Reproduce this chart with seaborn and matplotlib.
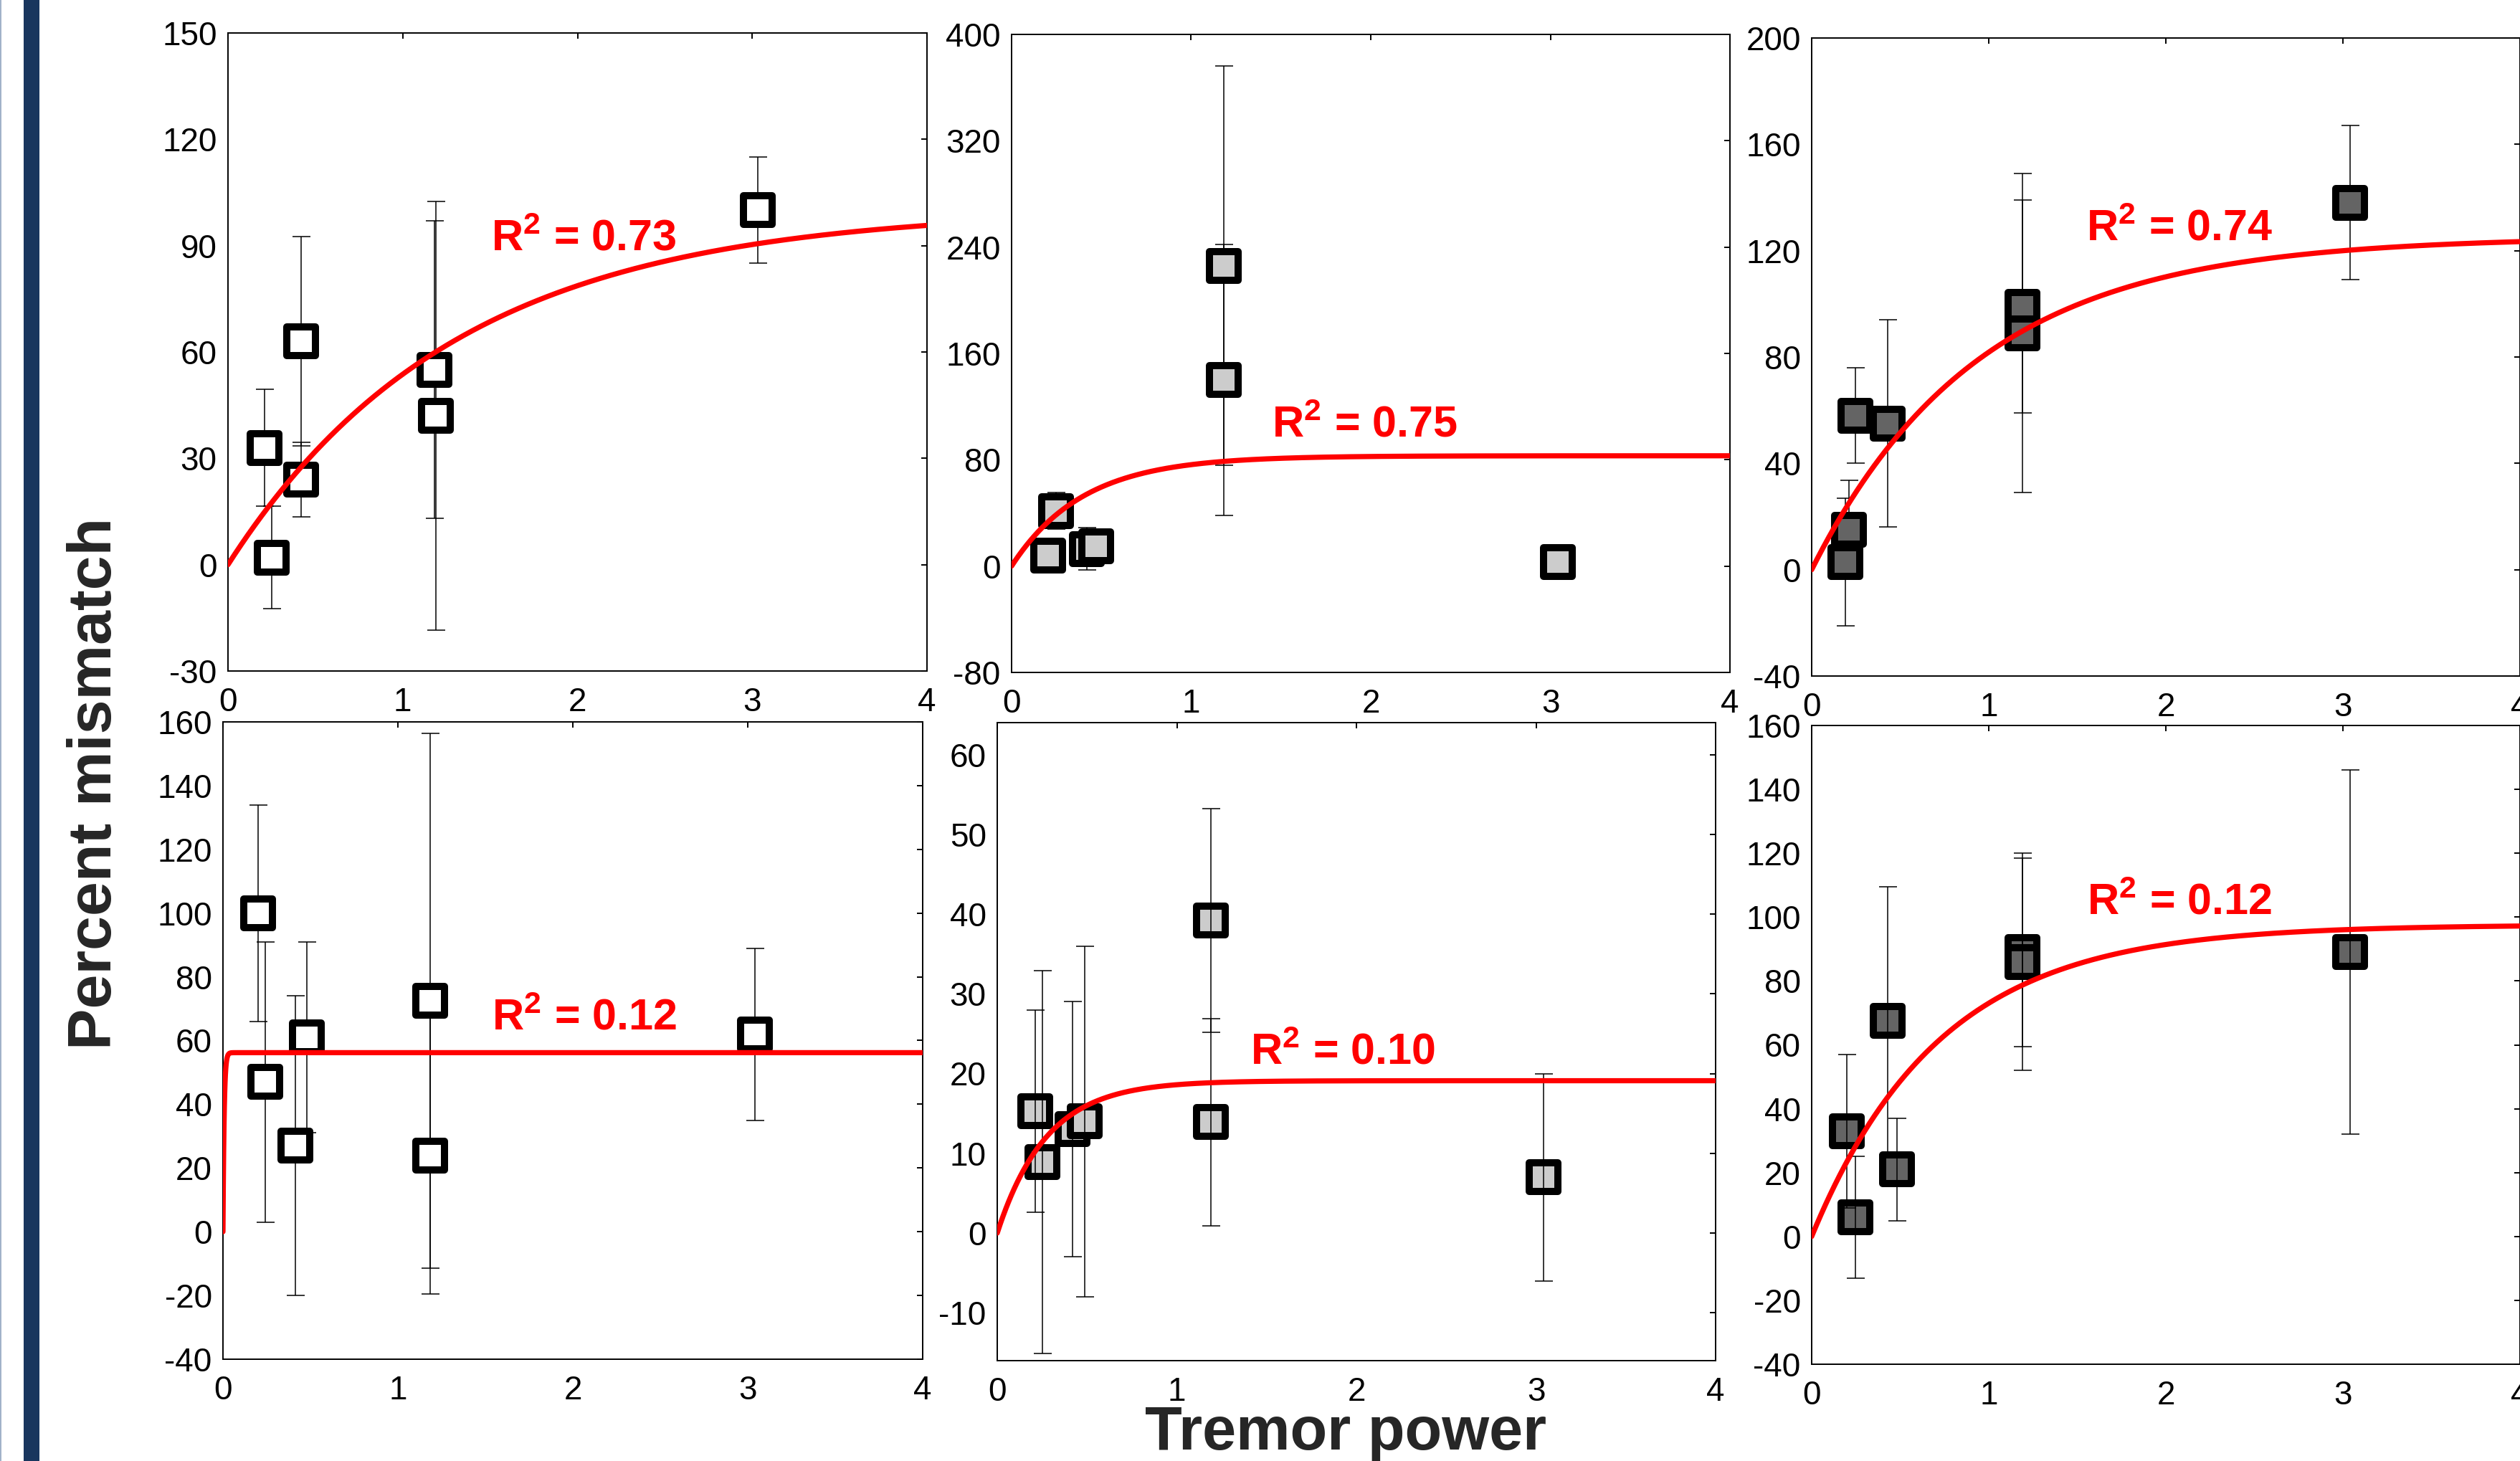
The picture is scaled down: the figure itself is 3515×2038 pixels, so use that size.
import numpy as np
import pandas as pd
import matplotlib
matplotlib.use("Agg")
import matplotlib.pyplot as plt
from matplotlib.patches import Rectangle
from matplotlib.lines import Line2D
import seaborn as sns

# Tremor power vs. percent mismatch, six conditions (mean and SD per subject)
p1_power = [0.21, 0.25, 0.42, 0.42, 1.18, 1.19, 3.03]
p1_mismatch = [33, 2, 63, 24, 55, 42, 100]
p1_sd = [16.5, 14.5, 29.5, 10.5, 42, 60.5, 15]

p2_power = [0.205, 0.246, 0.42, 0.47, 1.18, 1.18, 3.04]
p2_mismatch = [8, 41.6, 13, 15, 226, 140, 3]
p2_sd = [4, 14, 15.7, 6, 150, 102, 3]

p3_power = [0.19, 0.21, 0.245, 0.43, 1.19, 1.19, 3.04]
p3_mismatch = [3, 15, 58, 55, 99, 89, 138]
p3_sd = [24, 18.5, 18, 39, 40, 60, 29]

p4_power = [0.2, 0.24, 0.415, 0.48, 1.185, 1.185, 3.04]
p4_mismatch = [100, 47, 27, 61, 72.5, 24, 62]
p4_sd = [34, 44, 47, 30, 84, 43.5, 27]

p5_power = [0.21, 0.25, 0.42, 0.486, 1.19, 1.19, 3.04]
p5_mismatch = [15.3, 8.9, 13, 14, 39.2, 13.9, 7]
p5_sd = [12.7, 24, 16, 22, 14, 13, 13]

p6_power = [0.2, 0.245, 0.43, 0.48, 1.19, 1.19, 3.04]
p6_mismatch = [33, 6, 67.5, 21, 89, 86, 89]
p6_sd = [24, 19, 42, 16, 29.5, 34, 57]

# Saturating exponential fits: y = plateau * (1 - exp(-rate * x))
fit_plateau = [100.4, 83.0, 125.2, 56.2, 19.1, 97.6]
fit_rate = [0.766, 2.52, 1.06, 150.0, 3.64, 1.38]
r2_values = ["0.73", "0.75", "0.74", "0.12", "0.10", "0.12"]

x_ticks = [0, 1, 2, 3, 4]
y_ticks = [
    [-30, 0, 30, 60, 90, 120, 150],
    [-80, 0, 80, 160, 240, 320, 400],
    [-40, 0, 40, 80, 120, 160, 200],
    [-40, -20, 0, 20, 40, 60, 80, 100, 120, 140, 160],
    [-10, 0, 10, 20, 30, 40, 50, 60],
    [-40, -20, 0, 20, 40, 60, 80, 100, 120, 140, 160],
]
y_limits = [(-30, 150), (-80, 400), (-40, 200), (-40, 160), (-16, 64), (-40, 160)]

panels = [
    (p1_power, p1_mismatch, p1_sd),
    (p2_power, p2_mismatch, p2_sd),
    (p3_power, p3_mismatch, p3_sd),
    (p4_power, p4_mismatch, p4_sd),
    (p5_power, p5_mismatch, p5_sd),
    (p6_power, p6_mismatch, p6_sd),
]

# ---- styling -------------------------------------------------------------
sns.set_theme(style="white")
plt.rcParams["font.family"] = ["Liberation Sans", "DejaVu Sans"]
plt.rcParams["mathtext.fontset"] = "custom"
plt.rcParams["mathtext.rm"] = "Liberation Sans"
plt.rcParams["mathtext.bf"] = "Liberation Sans:bold"
plt.rcParams["axes.linewidth"] = 0.7
plt.rcParams["axes.edgecolor"] = "black"

W, H = 3516, 2038
DPI = 200
fig = plt.figure(figsize=(W / DPI, H / DPI), dpi=DPI, facecolor="white")

# axes boxes in pixels: (left, top, right, bottom)
boxes = [
    (318, 46, 1293, 936),
    (1411, 48, 2413, 938),
    (2527, 53, 3515, 943),
    (311, 1007, 1287, 1896),
    (1391, 1008, 2393, 1898),
    (2527, 1012, 3515, 1903),
]
face_colors = ["white", "#cccccc", "#646464", "white", "#cccccc", "#646464"]
bars_on_top = [False, False, False, False, True, True]
label_pos = [(1.507, 88.6), (1.45, 97.4), (1.55, 123.8),
             (1.537, 63.3), (1.408, 21.2), (1.554, 100.9)]

for i, ((px, py, psd), (l, t, r, b)) in enumerate(zip(panels, boxes)):
    ax = fig.add_axes([l / W, 1 - b / H, (r - l) / W, (b - t) / H])
    ax.set_facecolor("white")

    df = pd.DataFrame({"power": px, "mismatch": py, "sd": psd})

    z_bar, z_mark = (3, 2) if bars_on_top[i] else (2, 3)
    ax.errorbar(df["power"], df["mismatch"], yerr=df["sd"], fmt="none",
                ecolor="black", elinewidth=0.55, capsize=4.5, capthick=0.55,
                zorder=z_bar)
    sns.scatterplot(data=df, x="power", y="mismatch", ax=ax, marker="s",
                    s=207, color=face_colors[i], edgecolor="black",
                    linewidth=3.6, zorder=z_mark, legend=False)

    xs = np.linspace(0, 4, 2001)
    fit_df = pd.DataFrame({"power": xs,
                           "fit": fit_plateau[i] * (1 - np.exp(-fit_rate[i] * xs))})
    sns.lineplot(data=fit_df, x="power", y="fit", ax=ax, color="#ff0000",
                 linewidth=2.6, estimator=None, zorder=4)

    lx, ly = label_pos[i]
    ax.text(lx, ly, r"R$^{\mathbf{2}}$ = " + r2_values[i], color="#ff0000",
            fontsize=22, fontweight="bold", ha="left", va="baseline", zorder=5)

    ax.set_xlim(0, 4)
    ax.set_ylim(*y_limits[i])
    ax.set_xticks(x_ticks)
    ax.set_yticks(y_ticks[i])
    ax.set_xticklabels([str(v) for v in x_ticks])
    ax.set_yticklabels([str(v) for v in y_ticks[i]])
    ax.set_xlabel("")
    ax.set_ylabel("")
    for s in ax.spines.values():
        s.set_visible(True)
        s.set_color("black")
        s.set_linewidth(0.7)
    ax.tick_params(axis="both", which="major", direction="in", length=3,
                   width=0.7, color="black", labelsize=16.5,
                   top=True, right=True, labelcolor="black")
    ax.tick_params(axis="y", pad=5.5)
    ax.tick_params(axis="x", pad=8)

# shared axis titles
fig.text(133 / W, 1 - 1093 / H, "Percent mismatch", rotation=90,
         fontsize=31, fontweight="bold", ha="center", va="center")
fig.text(1877 / W, 1 - 2022 / H, "Tremor power", fontsize=30.5,
         fontweight="bold", ha="center", va="baseline")

# slide decoration on the left edge
fig.patches.append(Rectangle((33 / W, 0), 22 / W, 1, transform=fig.transFigure,
                             facecolor="#19365e", edgecolor="none", zorder=0))
fig.lines.append(Line2D([0.6 / W, 0.6 / W], [0, 1], transform=fig.transFigure,
                        color="#8fa3bf", linewidth=0.6))

fig.savefig("out.png", dpi=DPI, facecolor="white")
